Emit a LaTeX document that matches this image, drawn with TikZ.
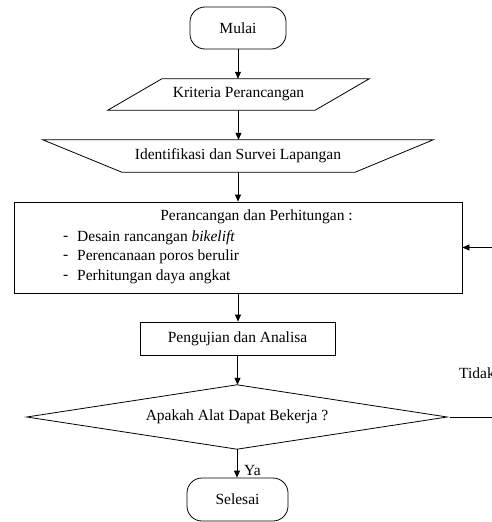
\documentclass[tikz,border=0pt]{standalone}
\usepackage{fontspec}
\setmainfont{Liberation Serif}
\usetikzlibrary{arrows.meta}
\begin{document}
\begin{tikzpicture}[x=1pt,y=-1pt,
  every node/.style={font=\fontsize{15.5}{18}\selectfont, inner sep=0pt},
  frame/.style={draw=black, line width=0.8pt},
  boxarea/.style={minimum width=#1},
  flow/.style={draw=black, line width=0.8pt, -{Triangle[length=7pt,width=6pt]}},
  plain/.style={draw=black, line width=0.8pt}
]
\useasboundingbox (0,0) rectangle (492,522);
% Terminals
\node[frame, rounded corners=15pt, minimum width=96pt, minimum height=42pt] (mulai) at (238,28) {Mulai};
\node[frame, rounded corners=15pt, minimum width=101pt, minimum height=43pt] (selesai) at (237.5,499.5) {Selesai};
% Parallelogram (input)
\node[minimum width=261pt, minimum height=31pt] (krit) at (238.5,94.5) {Kriteria Perancangan};
\draw[frame] (krit.south west) -- ([xshift=54pt]krit.north west) -- (krit.north east) -- ([xshift=-54pt]krit.south east) -- cycle;
% Manual operation (trapezium)
\node[minimum width=390pt, minimum height=32pt] (ident) at (238,156) {Identifikasi dan Survei Lapangan};
\draw[frame] (ident.north west) -- (ident.north east) -- ([xshift=-78pt]ident.south east) -- ([xshift=79pt]ident.south west) -- cycle;
% Big process box
\node[frame, minimum width=448pt, minimum height=91pt] (design) at (238,247.5) {};
\node (t0) at (256.5,217) {Perancangan dan Perhitungan :};
\node[anchor=west] (d1) at (63,238) {-};
\node[anchor=west] (l1) at (77,238) {Desain rancangan \textit{bikelift}};
\node[anchor=west] (d2) at (63,257) {-};
\node[anchor=west] (l2) at (77,257) {Perencanaan poros berulir};
\node[anchor=west] (d3) at (63,277) {-};
\node[anchor=west] (l3) at (77,277) {Perhitungan daya angkat};
% Testing
\node[frame, minimum width=195pt, minimum height=33pt] (uji) at (237.5,338.5) {Pengujian dan Analisa};
% Decision
\node[minimum width=420pt, minimum height=64pt] (dec) at (237,417) {Apakah Alat Dapat Bekerja ?};
\draw[frame] (dec.north) -- (dec.east) -- (dec.south) -- (dec.west) -- cycle;
% Connectors
\draw[flow] (mulai.south) -- (krit.north -| mulai.south);
\draw[flow] (krit.south) -- (ident.north -| krit.south);
\draw[flow] (ident.south) -- (design.north -| ident.south);
\draw[flow] (design.south) -- (uji.north -| design.south);
\draw[flow] (uji.south) -- (dec.north -| uji.south);
\draw[flow] (dec.south) -- (selesai.north -| dec.south);
\node[anchor=west] (ya) at (244,470) {Ya};
\coordinate (loopA) at (505,417);
\draw[flow] ([xshift=3pt]dec.east) -- (loopA) |- (design.east);
\node[anchor=west] (tidak) at (459,373) {Tidak};
\end{tikzpicture}
\end{document}
